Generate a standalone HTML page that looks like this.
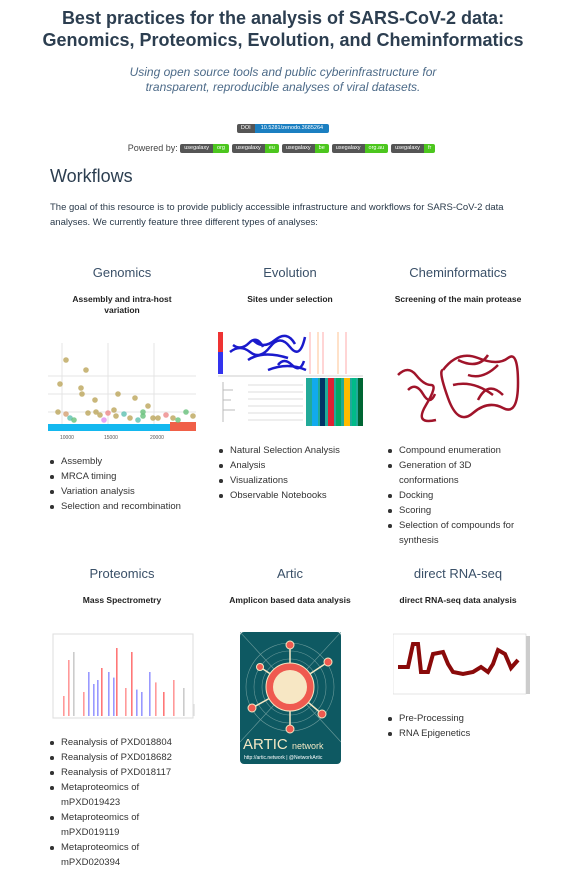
<!DOCTYPE html>
<html><head><meta charset="utf-8">
<style>
body{margin:0;width:566px;height:886px;background:#fff;font-family:"Liberation Sans",sans-serif;color:#2c3e50;position:relative;overflow:hidden}
.a{position:absolute}
.c{text-align:center}
h1{position:absolute;left:0;width:566px;top:7px;margin:0;font-size:18px;line-height:22px;text-align:center;font-weight:bold;color:#2c3e50}
.sub{left:0;width:566px;top:65px;font-size:12px;line-height:15px;font-style:italic;color:#4c6a88;text-align:center}
.badge{display:inline-block;font-size:5.5px;line-height:9px;height:9px;color:#fff;border-radius:2px;overflow:hidden;vertical-align:middle;margin-right:3px;white-space:nowrap}
.badge span{display:inline-block;padding:0 4px;height:9px;line-height:9px;vertical-align:top}
.dk{background:#555}.bl{background:#1b7fc1}.gr{background:#4cc61e}
h2{position:absolute;margin:0;font-weight:normal;font-size:18px;left:50px;top:166px;color:#2c3e50}
p.t{position:absolute;margin:0;left:50px;top:200px;width:480px;font-size:9.5px;line-height:15px;color:#2a3a4a}
.h3{position:absolute;font-size:13px;text-align:center;width:170px;color:#3a5068}
.h4{position:absolute;font-size:8.5px;font-weight:bold;text-align:center;width:160px;line-height:11px;color:#222}
ul{position:absolute;margin:0;padding:0 0 0 12px;font-size:9.5px;line-height:15px;color:#333;list-style:none}
ul li{position:relative}
ul li:before{content:"";position:absolute;left:-11px;top:6px;width:3.5px;height:3.5px;border-radius:50%;background:#333}
</style></head><body>
<h1>Best practices for the analysis of SARS-CoV-2 data:<br>Genomics, Proteomics, Evolution, and Cheminformatics</h1>
<div class="a sub">Using open source tools and public cyberinfrastructure for<br>transparent, reproducible analyses of viral datasets.</div>
<div class="a c" style="left:0;width:566px;top:120px;height:10px"><span class="badge" style="margin:0"><span class="dk">DOI</span><span class="bl" style="padding:0 6px">10.5281/zenodo.3685264</span></span></div>
<div class="a c" style="left:0;width:566px;top:143px;font-size:9px;color:#444">Powered by: 
<span class="badge"><span class="dk">usegalaxy</span><span class="gr">org</span></span><span class="badge"><span class="dk">usegalaxy</span><span class="gr">eu</span></span><span class="badge"><span class="dk">usegalaxy</span><span class="gr">be</span></span><span class="badge"><span class="dk">usegalaxy</span><span class="gr">org.au</span></span><span class="badge"><span class="dk">usegalaxy</span><span class="gr">fr</span></span></div>
<h2>Workflows</h2>
<p class="t">The goal of this resource is to provide publicly accessible infrastructure and workflows for SARS-CoV-2 data analyses. We currently feature three different types of analyses:</p>

<div class="h3" style="left:37px;top:265px">Genomics</div>
<div class="h4" style="left:42px;top:294px">Assembly and intra-host<br>variation</div>
<svg class="a" style="left:48px;top:340px" width="148" height="100" id="gsvg">
<g stroke="#e4e4e4" stroke-width="1"><line x1="14" y1="3" x2="14" y2="88"/><line x1="60" y1="3" x2="60" y2="88"/><line x1="106" y1="3" x2="106" y2="88"/><line x1="0" y1="36" x2="148" y2="36"/><line x1="0" y1="54" x2="148" y2="54"/><line x1="0" y1="72" x2="148" y2="72"/></g>
<rect x="0" y="84" width="122" height="7" fill="#14b8ef"/><rect x="122" y="82" width="26" height="9" fill="#f06048"/>
<text x="12" y="99" font-size="5" fill="#555">10000</text><text x="56" y="99" font-size="5" fill="#555">15000</text><text x="102" y="99" font-size="5" fill="#555">20000</text>
</svg>
<ul style="left:49px;top:454px"><li>Assembly</li><li>MRCA timing</li><li>Variation analysis</li><li>Selection and recombination</li></ul>

<div class="h3" style="left:205px;top:265px">Evolution</div>
<div class="h4" style="left:210px;top:294px">Sites under selection</div>
<svg class="a" style="left:218px;top:330px" width="145" height="100">
<rect x="0" y="2" width="5" height="42" fill="#e33"/><rect x="0" y="22" width="5" height="22" fill="#33e"/>
<g stroke="#1a1acc" stroke-width="2.5" fill="none">
<path d="M12 22 q10 -8 20 0 t20 -5 t20 0 t15 -10 M30 30 q15 -10 40 -2 M50 40 q20 -8 38 0"/>
<path d="M15 15 q8 6 16 -2 t14 4 M35 10 q10 10 22 0 t20 4 M60 35 q6 -8 14 0 t12 -4"/>
</g>
<g stroke-width="1" opacity=".7"><line x1="92" y1="2" x2="92" y2="44" stroke="#f88"/><line x1="100" y1="2" x2="100" y2="44" stroke="#fa6"/><line x1="105" y1="2" x2="105" y2="44" stroke="#f88"/><line x1="120" y1="2" x2="120" y2="44" stroke="#fa6"/><line x1="128" y1="2" x2="128" y2="44" stroke="#f88"/></g>
<line x1="0" y1="46" x2="145" y2="46" stroke="#ccc"/>
<g><rect x="88" y="48" width="57" height="48" fill="#2a9"/><rect x="94" y="48" width="6" height="48" fill="#1ae"/><rect x="102" y="48" width="5" height="48" fill="#036"/><rect x="110" y="48" width="6" height="48" fill="#d23"/><rect x="118" y="48" width="5" height="48" fill="#0a6"/><rect x="126" y="48" width="6" height="48" fill="#fb0"/><rect x="134" y="48" width="4" height="48" fill="#0b8"/><rect x="140" y="48" width="5" height="48" fill="#063"/></g>
<path d="M5 52 v40 M5 60 h10 M5 70 h8 M5 80 h12" stroke="#bbb" fill="none"/>
<g stroke="#ddd" stroke-width="1"><line x1="30" y1="55" x2="85" y2="55"/><line x1="30" y1="62" x2="85" y2="62"/><line x1="30" y1="69" x2="85" y2="69"/><line x1="30" y1="76" x2="85" y2="76"/><line x1="30" y1="83" x2="85" y2="83"/><line x1="30" y1="90" x2="85" y2="90"/></g>
</svg>
<ul style="left:218px;top:443px"><li>Natural Selection Analysis</li><li>Analysis</li><li>Visualizations</li><li>Observable Notebooks</li></ul>

<div class="h3" style="left:373px;top:265px">Cheminformatics</div>
<div class="h4" style="left:378px;top:294px">Screening of the main protease</div>
<svg class="a" style="left:388px;top:330px" width="145" height="100">
<g stroke="#a0142a" stroke-width="2.5" fill="none">
<path d="M10 45 q10 -10 18 0 t15 10 t-5 20 t10 15 M20 60 q8 -8 15 4 t12 0"/>
<path d="M55 40 q15 -20 35 -12 t30 0 t10 25 t-15 25 t-30 5 t-25 -15 t-5 -28"/>
<path d="M70 30 q20 10 30 -5 M65 55 q20 -5 40 10 M80 45 q15 5 30 -10 M90 70 q10 -20 25 -5"/>
</g></svg>
<ul style="left:387px;top:443px"><li>Compound enumeration</li><li>Generation of 3D<br>conformations</li><li>Docking</li><li>Scoring</li><li>Selection of compounds for<br>synthesis</li></ul>

<div class="h3" style="left:37px;top:566px">Proteomics</div>
<div class="h4" style="left:42px;top:595px">Mass Spectrometry</div>
<svg class="a" style="left:48px;top:632px" width="148" height="88" id="psvg">
<rect x="5" y="2" width="140" height="84" fill="none" stroke="#ddd"/>
</svg>
<ul style="left:49px;top:735px"><li>Reanalysis of PXD018804</li><li>Reanalysis of PXD018682</li><li>Reanalysis of PXD018117</li><li>Metaproteomics of<br>mPXD019423</li><li>Metaproteomics of<br>mPXD019119</li><li>Metaproteomics of<br>mPXD020394</li></ul>

<div class="h3" style="left:205px;top:566px">Artic</div>
<div class="h4" style="left:210px;top:595px">Amplicon based data analysis</div>
<svg class="a" style="left:240px;top:632px" width="101" height="132">
<rect width="101" height="132" rx="4" fill="#0e5962"/>
<g fill="none" stroke="#6a9a9a" stroke-width=".6"><circle cx="50" cy="55" r="28"/><circle cx="50" cy="55" r="36"/><circle cx="50" cy="55" r="44"/><line x1="0" y1="0" x2="101" y2="110"/><line x1="101" y1="0" x2="0" y2="110"/></g>
<g stroke="#f4e8c4" stroke-width="1.5"><line x1="50" y1="55" x2="50" y2="13"/><line x1="50" y1="55" x2="50" y2="97"/><line x1="50" y1="55" x2="88" y2="30"/><line x1="50" y1="55" x2="20" y2="35"/><line x1="50" y1="55" x2="12" y2="76"/><line x1="50" y1="55" x2="82" y2="82"/></g>
<g fill="#ef5a50" stroke="#f4e8c4"><circle cx="50" cy="13" r="4"/><circle cx="50" cy="97" r="4"/><circle cx="88" cy="30" r="4"/><circle cx="20" cy="35" r="3.5"/><circle cx="12" cy="76" r="4"/><circle cx="82" cy="82" r="4"/><circle cx="50" cy="55" r="24"/></g>
<circle cx="50" cy="55" r="17" fill="#f7e7c4"/>
<text x="3" y="117" font-size="15" fill="#f4e8c4" font-family="Liberation Sans">ARTIC</text><text x="52" y="117" font-size="9" fill="#f4e8c4">network</text>
<text x="4" y="127" font-size="5" fill="#fff">http://artic.network | @NetworkArtic</text>
</svg>

<div class="h3" style="left:373px;top:566px">direct RNA-seq</div>
<div class="h4" style="left:378px;top:595px">direct RNA-seq data analysis</div>
<svg class="a" style="left:393px;top:632px" width="138" height="66">
<rect x="0" y="2" width="133" height="60" fill="#fff" stroke="#ccc" stroke-width=".5"/>
<polyline points="5,35 15,35 20,12 25,12 28,40 35,40 40,22 50,20 55,32 60,40 70,42 80,40 88,35 95,40 100,32 105,18 112,22 118,36 125,28" fill="none" stroke="#8a0a0a" stroke-width="4"/>
<rect x="133" y="4" width="4" height="58" fill="#ccc"/>
</svg>
<ul style="left:387px;top:711px"><li>Pre-Processing</li><li>RNA Epigenetics</li></ul>

<script>
// genomics scatter data
const gx=[12,18,33,34,38,47,52,66,70,87,95,100,18,22,40,48,60,68,76,82,95,105,118,125,138,145,10,26,56,90,110,130];
const gy=[44,20,48,54,30,60,75,70,54,58,72,66,74,78,73,72,73,76,74,78,76,78,75,78,72,76,72,80,80,80,78,80];
const gc=["#bba55a","#bba55a","#bba55a","#bba55a","#bba55a","#bba55a","#bba55a","#bba55a","#bba55a","#bba55a","#66c07a","#bba55a","#d4a070","#5cc0b0","#bba55a","#bba55a","#e88","#bba55a","#5cc0b0","#bba55a","#66c07a","#bba55a","#e88","#bba55a","#66c07a","#bba55a","#bba55a","#66c07a","#e08ef0","#5cc0b0","#bba55a","#66c07a"];
const gs=document.getElementById('gsvg');
gx.forEach((x,i)=>{const c=document.createElementNS('http://www.w3.org/2000/svg','circle');


c.setAttribute('cx',x);c.setAttribute('cy',gy[i]);c.setAttribute('r',2.8);c.setAttribute('fill',gc[i]);c.setAttribute('opacity','.8');gs.appendChild(c);});
// proteomics spectrum
const pm=[10,15,20,30,35,40,44,48,55,60,63,72,78,83,88,96,102,110,120,130,140];
const pi=[25,70,80,30,55,40,45,60,55,48,85,35,80,33,30,55,42,30,45,35,15];
const pc=["#f99","#f99","#ccc","#f99","#99f","#99f","#99f","#f77","#99f","#99f","#f77","#f99","#f77","#99f","#99f","#99f","#f99","#f77","#f99","#ccc","#ddd"];
const ps=document.getElementById('psvg');
pm.forEach((m,i)=>{const r=document.createElementNS('http://www.w3.org/2000/svg','rect');


const h=pi[i]*0.8;r.setAttribute('x',5+m);r.setAttribute('y',84-h);r.setAttribute('width',1.6);r.setAttribute('height',h);r.setAttribute('fill',pc[i]);ps.appendChild(r);});
</script>
</body></html>
